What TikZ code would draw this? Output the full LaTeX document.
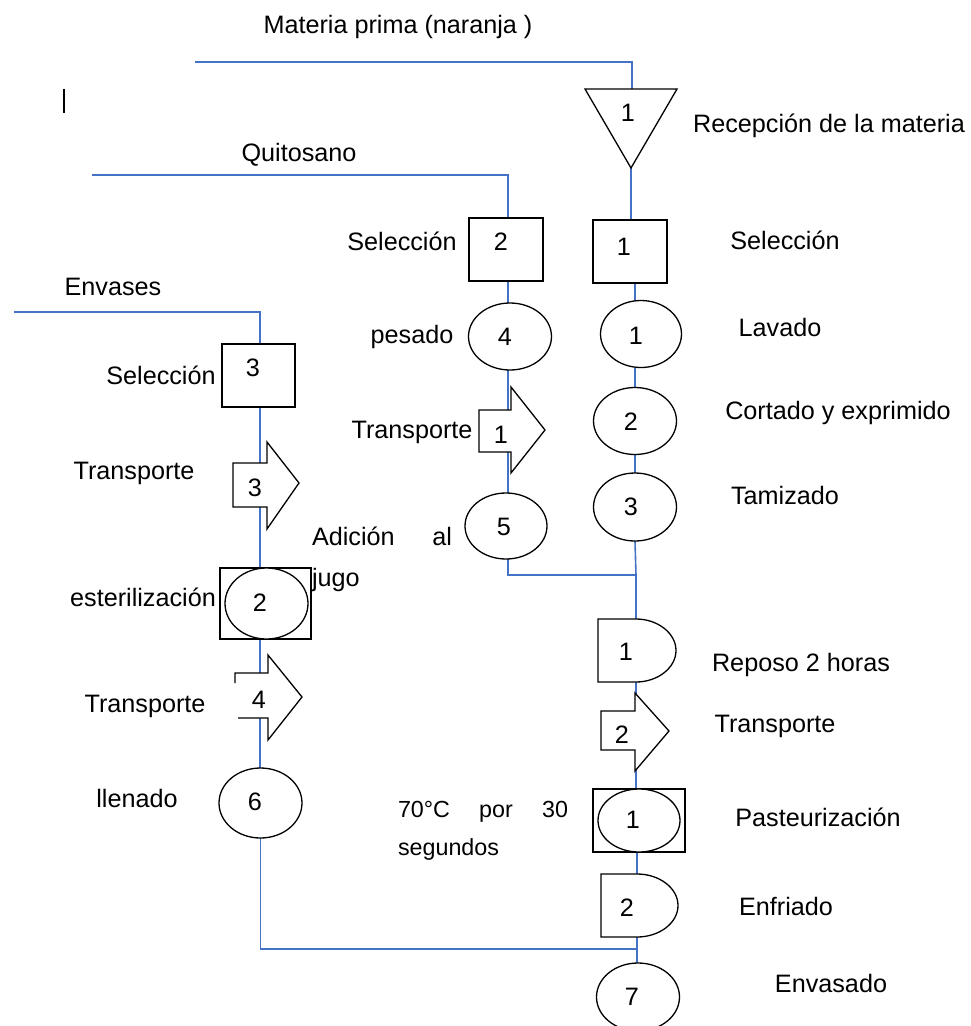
\documentclass[tikz,border=0pt]{standalone}
\usepackage{fontspec}
\setmainfont{Liberation Sans}
\usetikzlibrary{shapes.geometric}
\definecolor{flowblue}{HTML}{4472C4}
\pgfdeclarelayer{bg}
\pgfdeclarelayer{lines}
\pgfsetlayers{bg,lines,main}
\begin{document}
\begin{tikzpicture}[x=1pt,y=-1pt,
  every node/.style={font=\fontsize{25.2}{30}\selectfont, inner sep=0pt, outer sep=0pt},
  flow/.style={draw=flowblue, line width=1.6pt},
  shp/.style={draw=black, fill=white, line width=1.3pt, line join=miter},
  shpline/.style={draw=black, line width=1.3pt},
  sq/.style={shp, rectangle},
  ell/.style={shp, ellipse}]
\begin{pgfonlayer}{bg}
\fill[white] (0,0) rectangle (971,1026);
\end{pgfonlayer}
\useasboundingbox (0,0) rectangle (971,1026);

% column reference coordinates
\coordinate (colR) at (635,0);
\coordinate (colM) at (508,0);
\coordinate (colL) at (260,0);

% ---------- right column ----------
\coordinate (M0) at (195,62);
\coordinate (Tt) at (632,89);
\coordinate (Ta) at (631,168);
\filldraw[shp] (585,89) -- (677,89) -- (Ta) -- cycle;
\node (nT) at (628,113) {1};

\node[sq, minimum width=74pt, minimum height=63pt] (S1) at (630,251.5) {};
\node (nS1) at (624,247) {1};
\node[ell, minimum width=81pt, minimum height=67pt] (L1) at (641,334) {};
\node (nL1) at (636,336) {1};
\node[ell, minimum width=83pt, minimum height=67pt] (C2) at (635,421) {};
\node (nC2) at (631,422) {2};
\node[ell, minimum width=83pt, minimum height=68pt] (C3) at (635,507) {};
\node (nC3) at (631,507) {3};
\coordinate (J1) at (636,575);

\coordinate (D1t) at (636,619);
\coordinate (D1b) at (636,682);
\filldraw[shp] (598,619) -- (D1t) .. controls (657.5,619) and (676,633.1) .. (676,650.5)
  .. controls (676,667.9) and (657.5,682) .. (D1b) -- (598,682) -- cycle;
\node (nD1) at (626,652) {1};

\filldraw[shp] (601,711) -- (635,711) -- (635,693) -- (669,731) -- (635,771) -- (635,750) -- (601,750) -- cycle;
\node (nA2) at (622,735) {2};

\node[sq, minimum width=92pt, minimum height=63pt] (Ps) at (639,820.5) {};
\node[ell, minimum width=82pt, minimum height=63pt] (Pse) at (639,820.5) {};
\node (nPs) at (633,820) {1};

\coordinate (D2t) at (637,874);
\coordinate (D2b) at (637,937);
\filldraw[shp] (601,874) -- (D2t) .. controls (659.5,874) and (678,888.1) .. (678,905.5)
  .. controls (678,922.9) and (659.5,937) .. (D2b) -- (601,937) -- cycle;
\node (nD2) at (627,908) {2};
\coordinate (J3) at (637,949);
\node[ell, minimum width=83pt, minimum height=68pt] (E7) at (638,997) {};
\node (nE7) at (632,997) {7};

% ---------- middle column ----------
\coordinate (Q0) at (92,175);
\node[sq, minimum width=74pt, minimum height=63pt] (S2) at (506,249.5) {};
\node (nS2) at (501,242) {2};
\node[ell, minimum width=83pt, minimum height=67pt] (P4) at (510,336.5) {};
\node (nP4) at (505,337) {4};
\filldraw[shp] (479,410) -- (511,410) -- (511,387) -- (545,430) -- (511,473) -- (511,452) -- (479,452) -- cycle;
\node (nA1) at (501,435) {1};
\node[ell, minimum width=82pt, minimum height=66pt] (C5) at (506,526) {};
\node (nC5) at (504,527) {5};

% ---------- left column ----------
\coordinate (E0) at (14,312);
\node[sq, minimum width=73pt, minimum height=63pt] (S3) at (258.5,375.5) {};
\node (nS3) at (253,368) {3};
\filldraw[shp] (233,463) -- (267,463) -- (267,442) -- (299,483) -- (267,529) -- (267,507) -- (233,507) -- cycle;
\node (nA3) at (255,488) {3};
\node[sq, minimum width=91pt, minimum height=71pt] (St) at (265.5,603.5) {};
\node[ell, minimum width=83pt, minimum height=71pt] (Ste) at (266.5,603.5) {};
\node (nSt) at (260,603) {2};
\fill[white] (235,673) -- (268,673) -- (268,655) -- (302,697) -- (268,740) -- (268,718) -- (235,718) -- cycle;
\draw[shpline] (235,683) -- (235,673) -- (268,673) -- (268,655) -- (302,697) -- (268,740) -- (268,718) -- (238,718);
\node (nA4) at (259,700) {4};
\node[ell, minimum width=83pt, minimum height=70pt] (F6) at (260.5,803) {};
\node (nF6) at (255,802) {6};

% cursor mark
\draw[line width=1.2pt] (64,89) -- (64,113);

% ---------- connectors ----------
\begin{pgfonlayer}{lines}
\draw[flow] (M0) -| (Tt);
\draw[flow] (Ta) -- (Ta |- S1.north);
\draw[flow] (S1.south -| colR) -- (L1.north -| colR);
\draw[flow] (L1.south -| colR) -- (C2.north -| colR);
\draw[flow] (C2.south -| colR) -- (C3.north -| colR);
\draw[flow] (C3.south -| colR) -- (C3.south -| colR |- J1) -- (J1) -- (D1t);
\draw[flow] (D1b) -- (Ps.north -| D1b);
\draw[flow] (Ps.south -| D2t) -- (D2t);
\draw[flow] (D2b) -- (J3) -- (E7.north -| J3);
\draw[flow] (Q0) -| (S2.north -| colM);
\draw[flow] (S2.south -| colM) -- (P4.north -| colM);
\draw[flow] (P4.south -| colM) -- (C5.north -| colM);
\draw[flow] (C5.south -| colM) |- (J1);
\draw[flow] (E0) -| (S3.north -| colL);
\draw[flow] (S3.south -| colL) -- (St.north -| colL);
\draw[flow] (St.south -| colL) -- (F6.north -| colL);
\draw[flow] (F6.south) |- (J3);
\end{pgfonlayer}

% ---------- labels ----------
\node (t1) at (398,27) {Materia prima (naranja )};
\node (t2) at (829,126) {Recepción de la materia};
\node (t3) at (299,155) {Quitosano};
\node (t4) at (785,240) {Selección};
\node (t5) at (402,241) {Selección};
\node (t6) at (113,287) {Envases};
\node (t7) at (780,327) {Lavado};
\node (t8) at (412,337) {pesado};
\node (t9) at (161,375) {Selección};
\node (t10) at (838,413) {Cortado y exprimido};
\node (t11) at (412,432) {Transporte};
\node (t12) at (134,473) {Transporte};
\node (t13) at (785,495) {Tamizado};
\node[anchor=north west, text width=140pt, align=left, font=\fontsize{25.2}{41}\selectfont] (t14) at (312,527) {Adición\hfill al\\jugo};
\node (t15) at (143,597) {esterilización};
\node (t16) at (801,665) {Reposo 2 horas};
\node (t17) at (145,706) {Transporte};
\node (t18) at (775,726) {Transporte};
\node (t19) at (137,798) {llenado};
\node[anchor=north west, text width=170pt, align=left, font=\fontsize{23.3}{38}\selectfont] (t20) at (398,801) {70°C\hfill por\hfill 30\\segundos};
\node (t21) at (818,817) {Pasteurización};
\node (t22) at (786,906) {Enfriado};
\node (t23) at (831,983) {Envasado};
\end{tikzpicture}
\end{document}
